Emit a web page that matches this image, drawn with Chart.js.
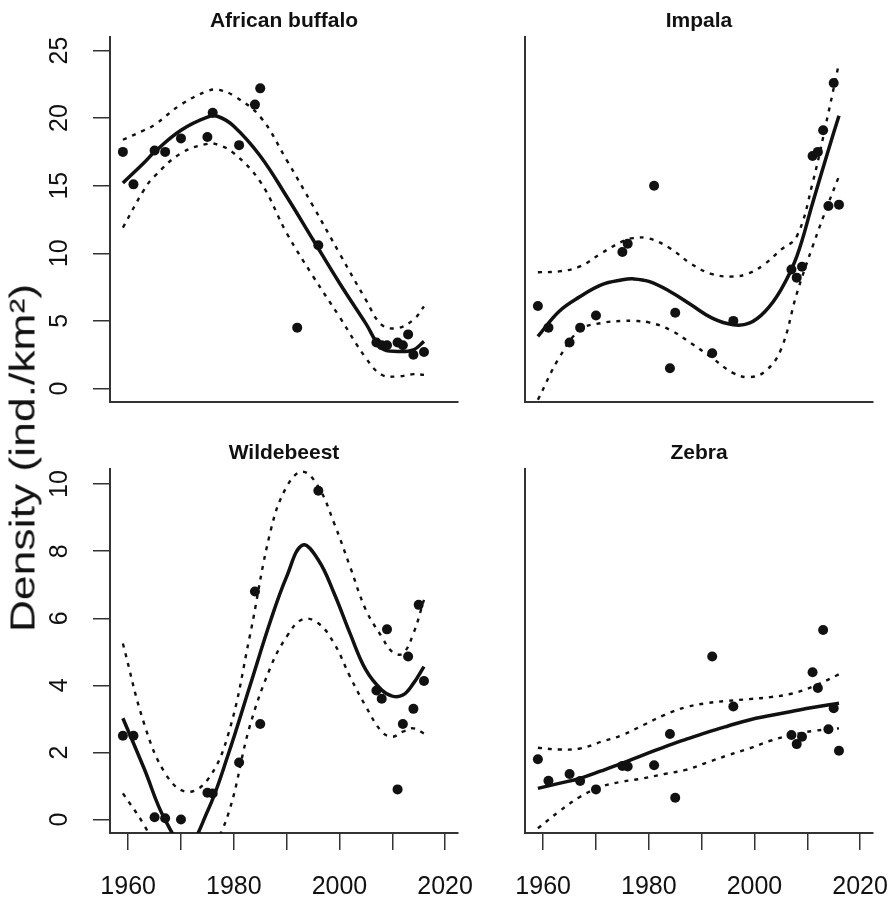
<!DOCTYPE html>
<html>
<head>
<meta charset="utf-8">
<script src="https://cdn.jsdelivr.net/npm/chart.js@4.4.1/dist/chart.umd.min.js"></script>
<style>
  html, body { margin: 0; padding: 0; background: #fff; overflow: hidden; }
  body { width: 895px; height: 898px; position: relative; }
  .panel { position: absolute; }
  #ylab {
    position: absolute; left: 22px; top: 458px;
    font: 35px "Liberation Sans", Arial, sans-serif; line-height: 1;
    white-space: nowrap; color: #111;
    transform: translate(-50%, -50%) rotate(-90deg) scaleX(1.27);
  }
</style>
</head>
<body>
<div class="panel" style="left:0;top:0"><canvas id="buffalo" width="520" height="450"></canvas></div>
<div class="panel" style="left:470px;top:0"><canvas id="impala" width="460" height="450"></canvas></div>
<div class="panel" style="left:0;top:415px"><canvas id="wildebeest" width="520" height="483"></canvas></div>
<div class="panel" style="left:470px;top:415px"><canvas id="zebra" width="460" height="483"></canvas></div>
<div id="ylab">Density (ind./km²)</div>
<script>
// survey years (points)
const years = [1959, 1961, 1965, 1967, 1970, 1975, 1976, 1981, 1984, 1985, 1992, 1996, 2007, 2008, 2009, 2011, 2012, 2013, 2014, 2015, 2016];

const buffaloDensity = [17.5, 15.1, 17.6, 17.5, 18.5, 18.6, 20.4, 18.0, 21.0, 22.2, 4.5, 10.6, 3.4, 3.2, 3.2, 3.4, 3.2, 4.0, 2.5, null, 2.7];
const impalaDensity = [6.1, 4.5, 3.4, 4.5, 5.4, 10.1, 10.7, 15.0, 1.5, 5.6, 2.6, 5.0, 8.8, 8.2, 9.0, 17.2, 17.5, 19.1, 13.5, 22.6, 13.6];
const wildebeestDensity = [2.5, 2.5, 0.07, 0.04, 0.0, 0.8, 0.78, 1.7, 6.8, 2.85, null, 9.8, 3.85, 3.6, 5.67, 0.9, 2.85, 4.86, 3.3, 6.4, 4.13];
const zebraDensity = [1.8, 1.16, 1.36, 1.15, 0.9, 1.6, 1.58, 1.62, 2.55, 0.65, 4.86, 3.37, 2.52, 2.25, 2.47, 4.39, 3.92, 5.65, 2.69, 3.32, 2.05];

// fitted curve + confidence band
const buffaloCurveYears = [1959, 1963, 1965, 1970, 1975, 1977, 1980, 1985, 1990, 1995, 2000, 2005, 2008, 2011, 2014, 2016];
const buffaloFit = [15.2, 16.7, 17.5, 19.1, 20.07, 20.12, 19.4, 17.2, 14.2, 11.0, 7.8, 4.8, 2.98, 2.74, 2.86, 3.48];
const buffaloUpper = [18.4, 19.1, 19.5, 21.0, 22.0, 22.1, 21.65, 20.1, 16.9, 13.5, 10.0, 6.56, 4.71, 4.47, 5.08, 6.07];
const buffaloLower = [11.9, 14.7, 15.7, 17.4, 18.1, 18.03, 17.4, 15.3, 11.5, 8.3, 5.3, 2.25, 1.01, 0.89, 1.06, 1.01];

const impalaCurveYears = [1959, 1963, 1967, 1971, 1975, 1977, 1980, 1984, 1988, 1992, 1996, 1999, 2002, 2005, 2008, 2011, 2014, 2016];
const impalaFit = [3.85, 5.7, 6.8, 7.67, 8.04, 8.11, 7.92, 7.18, 6.19, 5.2, 4.71, 4.83, 5.7, 7.3, 9.76, 13.7, 17.65, 20.17];
const impalaUpper = [8.6, 8.66, 9.03, 10.0, 10.88, 11.12, 11.1, 10.38, 9.22, 8.46, 8.28, 8.53, 9.22, 10.26, 11.24, 15.2, 20.4, 24.07];
const impalaLower = [-0.84, 2.25, 4.34, 4.84, 5.0, 5.0, 4.89, 4.34, 3.35, 2.25, 1.14, 0.84, 1.26, 2.86, 7.0, 10.5, 13.7, 15.7];

const wildebeestCurveYears = [1959, 1963, 1967, 1971, 1975, 1979, 1983, 1987, 1990, 1993, 1996, 1999, 2002, 2005, 2008, 2010, 2012, 2014, 2016];
const wildebeestFit = [3.02, 1.53, -0.01, -0.8, 0.24, 1.97, 3.96, 5.95, 7.24, 8.18, 7.74, 6.74, 5.55, 4.46, 3.86, 3.68, 3.71, 4.06, 4.56];
const wildebeestUpper = [5.25, 2.87, 1.38, 0.83, 1.18, 2.57, 5.45, 8.63, 9.92, 10.37, 9.92, 8.83, 7.54, 6.25, 5.45, 5.0, 4.95, 5.55, 6.55];
const wildebeestLower = [0.78, -0.16, -1.4, -2.4, -1.2, 0.19, 2.77, 4.56, 5.45, 5.97, 5.85, 5.25, 4.26, 3.37, 2.62, 2.47, 2.62, 2.72, 2.57];

const zebraCurveYears = [1959, 1963, 1967, 1971, 1975, 1979, 1983, 1987, 1991, 1995, 1999, 2003, 2007, 2011, 2016];
const zebraFit = [0.93, 1.08, 1.23, 1.45, 1.68, 1.93, 2.17, 2.39, 2.6, 2.79, 2.97, 3.1, 3.22, 3.34, 3.47];
const zebraUpper = [2.14, 2.09, 2.12, 2.32, 2.52, 2.82, 3.12, 3.35, 3.47, 3.54, 3.59, 3.65, 3.75, 3.96, 4.33];
const zebraLower = [-0.26, 0.24, 0.68, 0.98, 1.13, 1.23, 1.36, 1.48, 1.7, 1.92, 2.12, 2.35, 2.52, 2.64, 2.72];

// axes
const xTicks = [1960, 1970, 1980, 1990, 2000, 2010, 2020];
const xLabeled = [1960, 1980, 2000, 2020];
const yTicksTop = [0, 5, 10, 15, 20, 25];
const yTicksBottom = [0, 2, 4, 6, 8, 10];

const INK = '#111';
const AXIS = '#333';
const FONT = '"Liberation Sans", Arial, sans-serif';

const pairs = (xs, ys) => xs.map((x, i) => ({ x, y: ys[i] })).filter(p => p.y !== null);

// panel title drawn centred above the plot area
const panelTitle = {
    id: 'panelTitle',
    afterDraw(chart, args, o) {
        const { ctx, chartArea: a } = chart;
        ctx.save();
        ctx.font = 'bold 21px ' + FONT;
        ctx.fillStyle = INK;
        ctx.textAlign = 'center';
        ctx.textBaseline = 'middle';
        ctx.fillText(o.text, (a.left + a.right) / 2, a.top - 16);
        ctx.restore();
    }
};

function makePanel(id, title, dens, cYears, fit, upper, lower, box) {
    const curve = (ys, width, dash) => ({
        type: 'scatter', data: pairs(cYears, ys), showLine: true,
        borderColor: INK, borderWidth: width, borderDash: dash,
        pointRadius: 0, tension: 0.4, fill: false
    });
    new Chart(document.getElementById(id).getContext('2d'), {
        type: 'scatter',
        data: {
            datasets: [
                { data: pairs(years, dens), pointRadius: 5, backgroundColor: INK, borderWidth: 0 },
                curve(fit, 3.5, []),
                curve(upper, 2.4, [4, 6]),
                curve(lower, 2.4, [4, 6])
            ]
        },
        plugins: [panelTitle],
        options: {
            responsive: false,
            animation: false,
            events: [],
            layout: { padding: { top: box.top, right: box.right, left: 0, bottom: 0 } },
            plugins: { legend: { display: false }, tooltip: { enabled: false }, panelTitle: { text: title } },
            scales: {
                x: {
                    type: 'linear', min: 1956.56, max: 2022.44,
                    afterBuildTicks: s => { s.ticks = xTicks.map(v => ({ value: v })); },
                    afterFit: s => { s.height = box.xh; },
                    grid: { display: box.xLabels, drawOnChartArea: false, tickLength: 17, color: AXIS, lineWidth: 1.5 },
                    border: { display: true, color: AXIS, width: 2 },
                    ticks: {
                        display: box.xLabels, padding: 22, autoSkip: false, maxRotation: 0,
                        color: INK, font: { family: FONT, size: 25 },
                        callback: v => xLabeled.includes(v) ? String(v) : ''
                    }
                },
                y: {
                    type: 'linear', min: box.yMin, max: box.yMax,
                    afterBuildTicks: s => { s.ticks = box.yTicks.map(v => ({ value: v })); },
                    afterFit: s => { s.width = box.yw; },
                    grid: { display: box.yLabels, drawOnChartArea: false, tickLength: 17, color: AXIS, lineWidth: 1.5 },
                    border: { display: true, color: AXIS, width: 2 },
                    ticks: {
                        display: box.yLabels, padding: 19, autoSkip: false,
                        minRotation: 90, maxRotation: 90, crossAlign: 'center',
                        color: INK, font: { family: FONT, size: 25 }
                    }
                }
            }
        }
    });
}

// plot areas: left panels x 110..458, right panels x 525..873; rows y 37..402 and 469..833
makePanel('buffalo', 'African buffalo', buffaloDensity, buffaloCurveYears, buffaloFit, buffaloUpper, buffaloLower,
    { top: 37, right: 62, xh: 48, yw: 110, xLabels: false, yLabels: true, yMin: -1, yMax: 26, yTicks: yTicksTop });
makePanel('impala', 'Impala', impalaDensity, impalaCurveYears, impalaFit, impalaUpper, impalaLower,
    { top: 37, right: 57, xh: 48, yw: 55, xLabels: false, yLabels: false, yMin: -1, yMax: 26, yTicks: yTicksTop });
makePanel('wildebeest', 'Wildebeest', wildebeestDensity, wildebeestCurveYears, wildebeestFit, wildebeestUpper, wildebeestLower,
    { top: 54, right: 62, xh: 65, yw: 110, xLabels: true, yLabels: true, yMin: -0.4, yMax: 10.45, yTicks: yTicksBottom });
makePanel('zebra', 'Zebra', zebraDensity, zebraCurveYears, zebraFit, zebraUpper, zebraLower,
    { top: 54, right: 57, xh: 65, yw: 55, xLabels: true, yLabels: false, yMin: -0.4, yMax: 10.45, yTicks: yTicksBottom });
</script>
</body>
</html>
